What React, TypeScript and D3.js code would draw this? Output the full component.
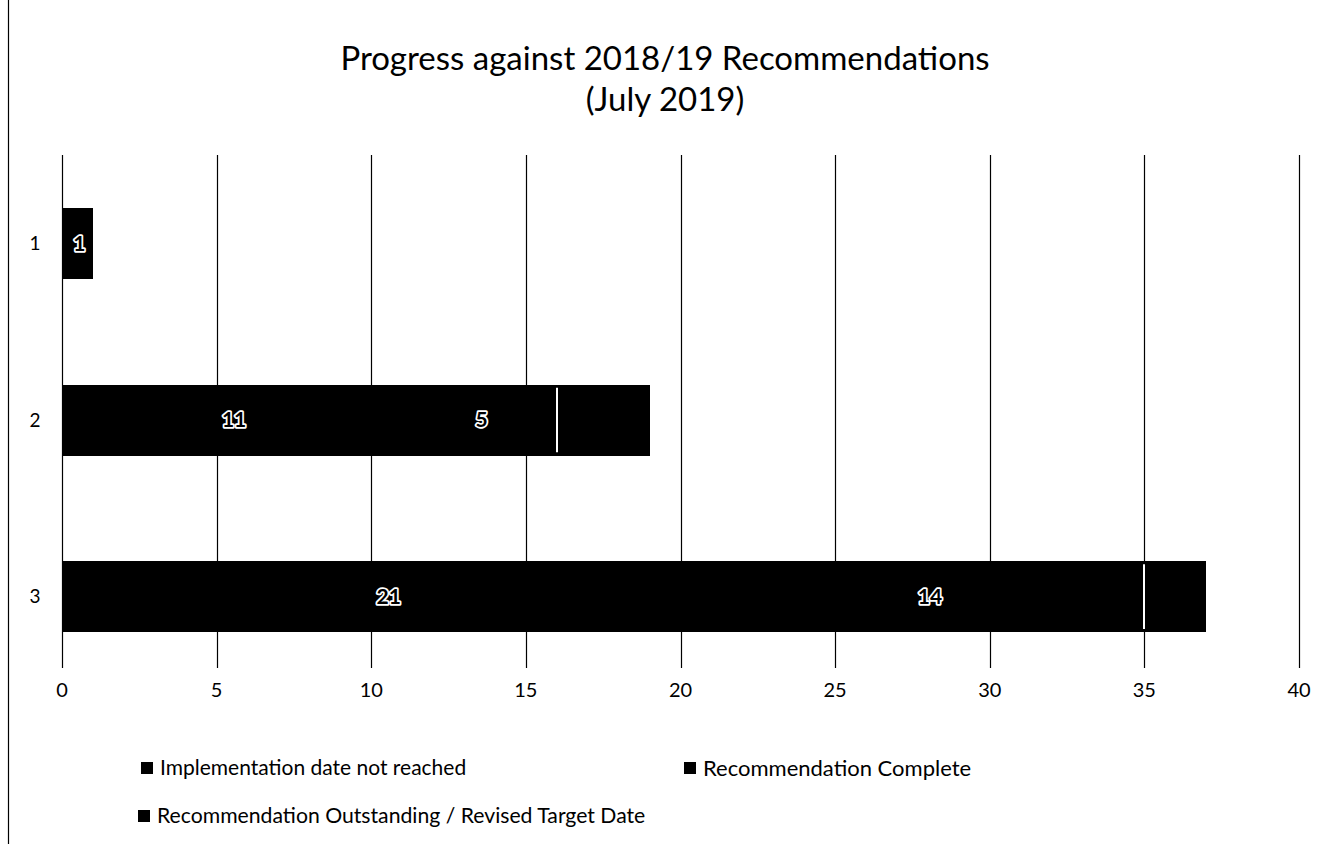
import React from "react";
import * as d3 from "d3";

const categories = ["1", "2", "3"];
const seriesNames = [
  "Implementation date not reached",
  "Recommendation Complete",
  "Recommendation Outstanding / Revised Target Date",
];
const notReached = [1, 11, 21];
const complete = [0, 5, 14];
const outstanding = [0, 3, 2];
const xTicks = [0, 5, 10, 15, 20, 25, 30, 35, 40];

const W = 1320;
const H = 844;
const FONT = "Lato, Carlito, 'Open Sans', sans-serif";

export default function App() {
  const x = d3.scaleLinear().domain([0, 40]).range([62, 1299]);
  const y = d3.scaleBand().domain(categories).range([155, 685]).paddingInner(0.6).paddingOuter(0.3);

  const rows = categories.map((c, i) => ({
    cat: c,
    vals: [notReached[i], complete[i], outstanding[i]],
  }));
  const stack = d3
    .stack<any>()
    .keys(["0", "1", "2"])
    .value((d: any, k: string) => d.vals[+k]);
  const layers = stack(rows as any);

  const gridTop = 155;
  const gridBottom = 668;

  const legend = [
    { name: seriesNames[0], lx: 141, ly: 768, fs: 21 },
    { name: seriesNames[1], lx: 684, ly: 768, fs: 22 },
    { name: seriesNames[2], lx: 138, ly: 816, fs: 21.2 },
  ];

  return (
    <svg
      width={W}
      height={H}
      style={{ position: "absolute", left: 0, top: 0, background: "#fff" }}
      fontFamily={FONT}
    >
      <rect x={0} y={0} width={W} height={H} fill="#fff" />
      {/* left frame edge */}
      <line x1={8.5} x2={8.5} y1={0} y2={H} stroke="#000" strokeWidth={1.2} />

      {/* title */}
      <text x={665} y={70} textAnchor="middle" fontSize={33} fill="#000">
        Progress against 2018/19 Recommendations
      </text>
      <text x={665} y={111} textAnchor="middle" fontSize={33} fill="#000">
        (July 2019)
      </text>

      {/* vertical gridlines */}
      {xTicks.map((t) => (
        <line
          key={t}
          x1={Math.round(x(t)) + 0.5}
          x2={Math.round(x(t)) + 0.5}
          y1={gridTop}
          y2={gridBottom}
          stroke="#000"
          strokeWidth={1.2}
        />
      ))}

      {/* stacked bars */}
      <g shapeRendering="crispEdges">
        {layers.map((layer, li) =>
          layer.map((seg: any, i: number) => {
            const [a, b] = seg;
            if (b - a <= 0) return null;
            const yy = y(categories[i])!;
            const x0 = Math.round(x(a));
            const x1 = Math.round(x(b));
            return (
              <rect
                key={`${li}-${i}`}
                x={x0}
                y={Math.round(yy)}
                width={x1 - x0}
                height={Math.round(y.bandwidth())}
                fill="#000"
              />
            );
          })
        )}
      </g>

      {/* separator at start of outstanding segment */}
      {layers[2].map((seg: any, i: number) => {
        const [a, b] = seg;
        if (b - a <= 0) return null;
        const yy = y(categories[i])!;
        return (
          <line
            key={`sep-${i}`}
            x1={Math.round(x(a))}
            x2={Math.round(x(a))}
            y1={yy + 3}
            y2={yy + y.bandwidth() - 3}
            stroke="#fff"
            strokeWidth={2}
          />
        );
      })}

      {/* value labels */}
      {layers.slice(0, 2).map((layer, li) =>
        layer.map((seg: any, i: number) => {
          const [a, b] = seg;
          if (b - a <= 0) return null;
          const yy = y(categories[i])! + y.bandwidth() / 2;
          return (
            <text
              key={`lbl-${li}-${i}`}
              x={x((a + b) / 2) + 2}
              y={yy}
              dy="0.35em"
              textAnchor="middle"
              fontSize={21}
              fontWeight="bold"
              fill="#000"
              stroke="#fff"
              strokeWidth={3.5}
              strokeLinejoin="round"
              paintOrder="stroke"
            >
              {b - a}
            </text>
          );
        })
      )}

      {/* category labels */}
      {categories.map((c) => (
        <text
          key={c}
          x={35}
          y={y(c)! + y.bandwidth() / 2}
          dy="0.35em"
          textAnchor="middle"
          fontSize={19}
          fill="#000"
        >
          {c}
        </text>
      ))}

      {/* x tick labels */}
      {xTicks.map((t) => (
        <text key={`t${t}`} x={x(t)} y={697} textAnchor="middle" fontSize={20} fill="#000">
          {t}
        </text>
      ))}

      {/* legend */}
      {legend.map((l) => (
        <g key={l.name}>
          <rect x={l.lx} y={l.ly - 6} width={12} height={12} fill="#000" />
          <text x={l.lx + 19} y={l.ly} dy="0.35em" fontSize={l.fs} fill="#000">
            {l.name}
          </text>
        </g>
      ))}
    </svg>
  );
}
